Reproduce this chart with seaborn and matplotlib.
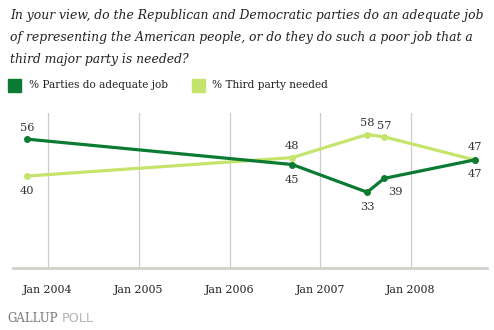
import matplotlib
matplotlib.use("Agg")
import matplotlib.pyplot as plt
import seaborn as sns
import pandas as pd
from matplotlib.patches import Rectangle

dates = ["2003-10-10", "2006-09-10", "2007-07-08", "2007-09-15", "2008-09-12"]
adequate = [56, 45, 33, 39, 47]
third_party = [40, 48, 58, 57, 47]
series_names = ["% Parties do adequate job", "% Third party needed"]
tick_dates = ["2004-01-01", "2005-01-01", "2006-01-01", "2007-01-01", "2008-01-01"]
tick_labels = ["Jan 2004", "Jan 2005", "Jan 2006", "Jan 2007", "Jan 2008"]

dark = "#0b7b34"
light = "#c4e46c"

df = pd.DataFrame({
    "date": pd.to_datetime(dates * 2),
    "value": adequate + third_party,
    "series": [series_names[0]] * len(dates) + [series_names[1]] * len(dates),
})

sns.set_theme(style="white")
plt.rcParams["font.family"] = ["DejaVu Serif"]

fig = plt.figure(figsize=(4.94, 3.30), dpi=100)
ax = fig.add_axes([0.0263, 0.187, 0.9595, 0.471])

sns.lineplot(data=df, x="date", y="value", hue="series",
             palette={series_names[0]: dark, series_names[1]: light},
             hue_order=[series_names[1], series_names[0]],
             linewidth=2.3, marker="o", markersize=5, markeredgewidth=0,
             legend=False, ax=ax)

ax.set_ylim(0, 67.4)
ax.set_xlim(pd.Timestamp("2003-08-14"), pd.Timestamp("2008-11-01"))
ax.set_yticks([])
ax.set_xticks(pd.to_datetime(tick_dates))
ax.set_xticklabels(tick_labels, fontsize=7.9, color="#222222")
ax.tick_params(axis="x", length=0, pad=12)
ax.set_xlabel("")
ax.set_ylabel("")
for t in pd.to_datetime(tick_dates):
    ax.axvline(t, color="#cccccc", linewidth=0.9, zorder=0)
for s in ["top", "right", "left"]:
    ax.spines[s].set_visible(False)
ax.spines["bottom"].set_color("#d2d2cc")
ax.spines["bottom"].set_linewidth(2)

# data labels
dt = pd.to_datetime(dates)
adq_off = [(0, 8), (0, -11), (0, -11), (8, -10), (0, -10)]
tp_off = [(0, -11), (0, 8), (0, 8), (0, 8), (0, 9)]
for d, v, o in zip(dt, adequate, adq_off):
    ax.annotate(str(v), (d, v), xytext=o, textcoords="offset points",
                ha="center", va="center", fontsize=8.2, color="#333333")
for d, v, o in zip(dt, third_party, tp_off):
    ax.annotate(str(v), (d, v), xytext=o, textcoords="offset points",
                ha="center", va="center", fontsize=8.2, color="#333333")

# title
title_lines = [
    "In your view, do the Republican and Democratic parties do an adequate job",
    "of representing the American people, or do they do such a poor job that a",
    "third major party is needed?",
]
for i, line in enumerate(title_lines):
    fig.text(10 / 494, 1 - (15 + 22.5 * i) / 330, line, fontsize=8.9,
             style="italic", va="center", ha="left", color="#222222")

# legend
fig.patches.append(Rectangle((8 / 494, 1 - 92 / 330), 13 / 494, 13 / 330,
                             transform=fig.transFigure, color=dark))
fig.text(29 / 494, 1 - 85 / 330, series_names[0], fontsize=7.6, va="center", color="#222222")
fig.patches.append(Rectangle((192 / 494, 1 - 92 / 330), 13 / 494, 13 / 330,
                             transform=fig.transFigure, color=light))
fig.text(212 / 494, 1 - 85 / 330, series_names[1], fontsize=7.6, va="center", color="#222222")

# footer
fig.text(7 / 494, 1 - 318 / 330, "GALLUP", fontsize=8.5, va="center", color="#7a7a7a")
fig.text(62 / 494, 1 - 318 / 330, "POLL", fontsize=9.2, va="center", color="#b5b5b5",
         family=["DejaVu Sans"])

fig.savefig("out.png", dpi=100)
